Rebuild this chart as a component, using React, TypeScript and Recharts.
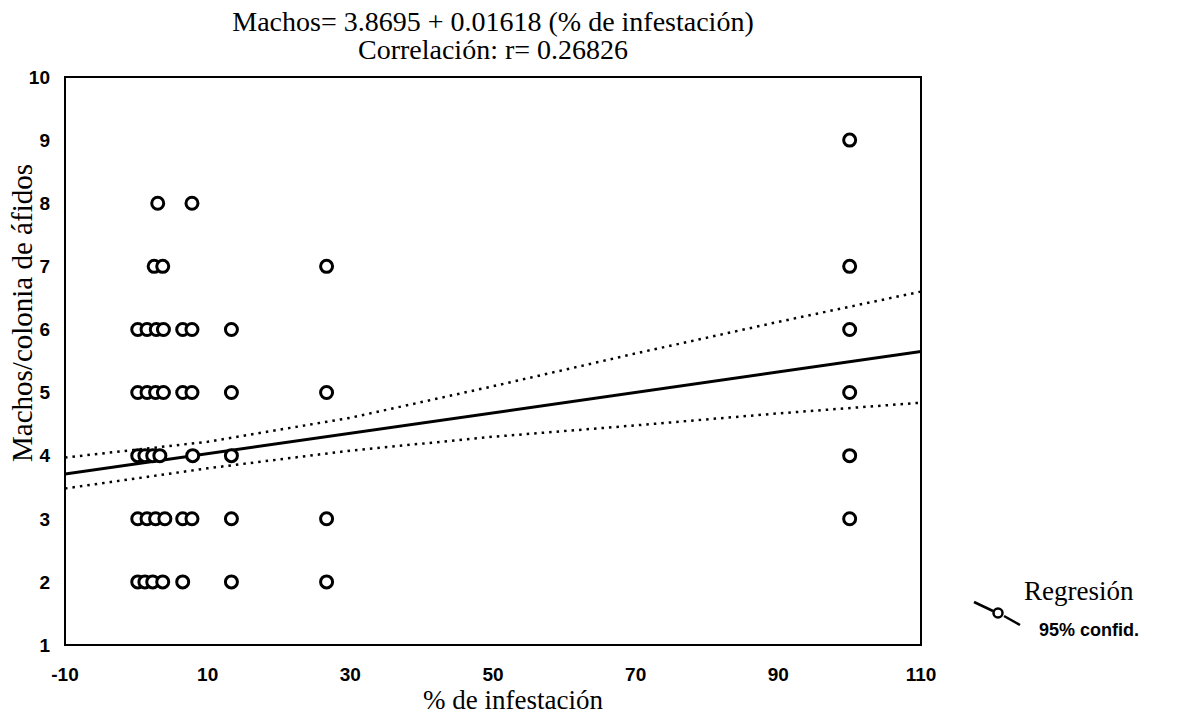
import React from "react";
import {
  ComposedChart,
  Scatter,
  Line,
  XAxis,
  YAxis,
  ReferenceArea,
} from "recharts";

// Observed points: % de infestación (x) and machos/colonia (y)
const pointsX = [
  100,
  3.0, 7.8,
  2.5, 3.7, 26.67, 100,
  0.2, 1.5, 2.8, 3.8, 6.5, 7.8, 13.33, 100,
  0.2, 1.5, 2.7, 3.8, 6.5, 7.8, 13.33, 26.67, 100,
  0.2, 1.2, 2.3, 3.3, 7.9, 13.33, 100,
  0.2, 1.5, 2.7, 4.0, 6.5, 7.8, 13.33, 26.67, 100,
  0.2, 1.2, 2.3, 3.7, 6.5, 13.33, 26.67,
];
const pointsY = [
  9,
  8, 8,
  7, 7, 7, 7,
  6, 6, 6, 6, 6, 6, 6, 6,
  5, 5, 5, 5, 5, 5, 5, 5, 5,
  4, 4, 4, 4, 4, 4, 4,
  3, 3, 3, 3, 3, 3, 3, 3, 3,
  2, 2, 2, 2, 2, 2, 2,
];

// Regression line endpoints (Machos = 3.8695 + 0.01618 x)
const regX = [-10, 110];
const regY = [3.7077, 5.6493];

// 95% confidence band
const bandX = [-10, 10, 30, 50, 70, 90, 110];
const upperY = [3.97, 4.22, 4.6, 5.1, 5.62, 6.12, 6.6];
const lowerY = [3.48, 3.8, 4.08, 4.3, 4.48, 4.67, 4.84];

const xTicks = [-10, 10, 30, 50, 70, 90, 110];
const yTicks = [1, 2, 3, 4, 5, 6, 7, 8, 9, 10];

const titleLine1 = "Machos= 3.8695 + 0.01618 (% de infestación)";
const titleLine2 = "Correlación: r= 0.26826";
const xLabel = "% de infestación";
const yLabel = "Machos/colonia de áfidos";
const legendMain = "Regresión";
const legendSub = "95% confid.";

const scatterData = pointsX.map((x, i) => ({ x, y: pointsY[i] }));
const regData = regX.map((x, i) => ({ x, y: regY[i] }));
const upperData = bandX.map((x, i) => ({ x, y: upperY[i] }));
const lowerData = bandX.map((x, i) => ({ x, y: lowerY[i] }));

const serif = "'Liberation Serif', 'Times New Roman', serif";
const sans = "'Liberation Sans', Arial, sans-serif";

const Ring = (props: any) => {
  const { cx, cy } = props;
  if (cx == null || cy == null) return null;
  return <circle cx={cx} cy={cy} r={6} fill="#fff" stroke="#000" strokeWidth={3} />;
};

export default function App() {
  const W = 1170;
  const H = 700;
  return (
    <div style={{ position: "relative", width: W, height: 708, background: "#fff" }}>
      <ComposedChart
        width={W}
        height={H}
        margin={{ top: 69, right: 257, bottom: 0, left: 0 }}
      >
        <XAxis
          dataKey="x"
          type="number"
          domain={[-10, 110]}
          ticks={xTicks}
          allowDataOverflow
          axisLine={false}
          tickLine={false}
          tickSize={0}
          tickMargin={23}
          height={63}
          tick={{ fill: "#000", fontFamily: sans, fontWeight: 700, fontSize: 19 }}
        />
        <YAxis
          dataKey="y"
          type="number"
          domain={[1, 10]}
          ticks={yTicks}
          allowDataOverflow
          axisLine={false}
          tickLine={false}
          tickSize={0}
          tickMargin={15}
          width={57}
          tick={{ fill: "#000", fontFamily: sans, fontWeight: 700, fontSize: 19 }}
        />
        <ReferenceArea
          x1={-10}
          x2={110}
          y1={1}
          y2={10}
          fill="none"
          stroke="#000"
          strokeWidth={2}
          ifOverflow="visible"
        />
        <Line
          data={upperData}
          dataKey="y"
          type="linear"
          stroke="#000"
          strokeWidth={2.5}
          strokeDasharray="2.5 5"
          dot={false}
          activeDot={false}
          isAnimationActive={false}
        />
        <Line
          data={lowerData}
          dataKey="y"
          type="linear"
          stroke="#000"
          strokeWidth={2.5}
          strokeDasharray="2.5 5"
          dot={false}
          activeDot={false}
          isAnimationActive={false}
        />
        <Line
          data={regData}
          dataKey="y"
          type="linear"
          stroke="#000"
          strokeWidth={3}
          dot={false}
          activeDot={false}
          isAnimationActive={false}
        />
        <Scatter data={scatterData} dataKey="y" shape={<Ring />} isAnimationActive={false} />
      </ComposedChart>

      <div
        style={{
          position: "absolute",
          left: 0,
          width: 970,
          top: 0,
          textAlign: "center",
          fontFamily: serif,
          fontSize: 28,
          lineHeight: "28px",
          color: "#000",
        }}
      >
        <div>{titleLine1}</div>
        <div>{titleLine2}</div>
      </div>

      <div
        style={{
          position: "absolute",
          left: 505,
          top: 692,
          width: 0,
          height: 0,
        }}
      >
        <div
          style={{
            position: "absolute",
            transform: "translate(-50%, -50%)",
            whiteSpace: "nowrap",
            fontFamily: serif,
            fontSize: 27,
            lineHeight: "26px",
            color: "#000",
          }}
        >
          {xLabel}
        </div>
      </div>

      <div
        style={{
          position: "absolute",
          left: 14,
          top: 305,
          width: 0,
          height: 0,
        }}
      >
        <div
          style={{
            position: "absolute",
            transform: "translate(-50%, -50%) rotate(-90deg)",
            whiteSpace: "nowrap",
            fontFamily: serif,
            fontSize: 29,
            color: "#000",
          }}
        >
          {yLabel}
        </div>
      </div>

      <svg
        style={{ position: "absolute", left: 964, top: 588 }}
        width={60}
        height={40}
      >
        <line x1={2} y1={6} x2={21} y2={15} stroke="#000" strokeWidth={2.5} />
        <line x1={32} y1={20} x2={48} y2={29} stroke="#000" strokeWidth={2.5} />
        <circle cx={26} cy={17} r={4.5} fill="#fff" stroke="#000" strokeWidth={2.5} />
      </svg>
      <div
        style={{
          position: "absolute",
          left: 1016,
          top: 568,
          fontFamily: serif,
          fontSize: 27,
          color: "#000",
        }}
      >
        {legendMain}
      </div>
      <div
        style={{
          position: "absolute",
          left: 1031,
          top: 612,
          fontFamily: sans,
          fontWeight: 700,
          fontSize: 18,
          color: "#000",
        }}
      >
        {legendSub}
      </div>
    </div>
  );
}
